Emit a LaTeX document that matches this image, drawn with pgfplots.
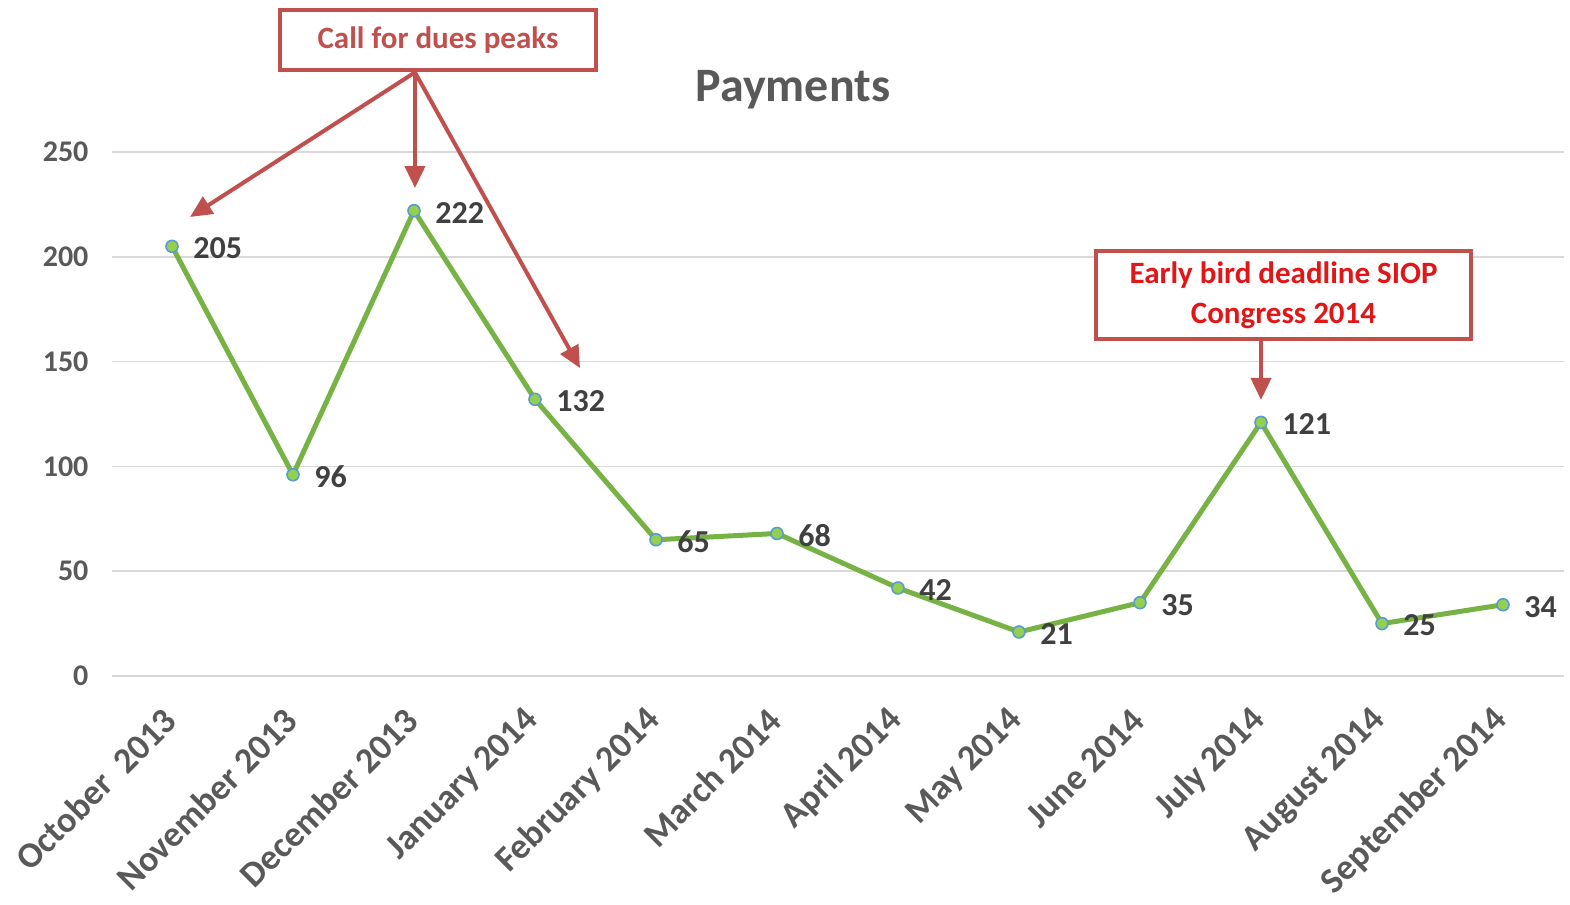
\documentclass[border=0pt]{standalone}
\usepackage{pgfplots}
\pgfplotsset{compat=1.18}
\usetikzlibrary{arrows.meta}
\usepackage{fontspec}
\setmainfont{Carlito}
\definecolor{linegreen}{RGB}{118,178,68}
\definecolor{markgreen}{RGB}{146,208,80}
\definecolor{markblue}{RGB}{91,155,213}
\definecolor{gridgray}{RGB}{217,217,217}
\definecolor{ticktxt}{RGB}{89,89,89}
\definecolor{lbltxt}{RGB}{64,64,64}
\definecolor{annred}{RGB}{192,80,77}
\definecolor{brightred}{RGB}{226,22,22}
\begin{document}
\begin{tikzpicture}
\useasboundingbox (0,0) rectangle (785pt,452.5pt);
\begin{axis}[
  at={(55.75pt,114.5pt)}, anchor=south west,
  scale only axis, width=726pt, height=262pt,
  xmin=-0.5, xmax=11.5, ymin=0, ymax=250,
  clip=false,
  axis line style={draw=none},
  major tick length=0pt,
  ymajorgrids, grid style={gridgray, line width=0.8pt},
  ytick={0,50,...,250},
  xtick={0,...,11},
  xticklabels={October\ \ 2013,November 2013,December 2013,January 2014,February 2014,March 2014,April 2014,May 2014,June 2014,July 2014,August 2014,September 2014},
  /pgf/number format/assume math mode=true,
  yticklabel style={font=\fontsize{15pt}{17pt}\selectfont\bfseries, text=ticktxt, xshift=-8pt},
  xticklabel style={yshift=-17pt, xshift=1.5pt, rotate=45, anchor=east, font=\fontsize{18pt}{20pt}\selectfont\bfseries, text=ticktxt},
  nodes near coords,
  every node near coord/.append style={anchor=west, xshift=7pt, yshift=-1pt, font=\fontsize{16pt}{18pt}\selectfont\bfseries, text=lbltxt},
]
\addplot[linegreen, line width=2.5pt, mark=*, mark size=3pt, mark options={fill=markgreen, draw=markblue, line width=0.8pt}] coordinates {
(0,205) (1,96) (2,222) (3,132) (4,65) (5,68) (6,42) (7,21) (8,35) (9,121) (10,25) (11,34)};

\node[font=\fontsize{24pt}{27pt}\selectfont\bfseries, text=ticktxt] at (axis cs:5.132,279.6) {Payments};

\draw[annred, line width=2pt, -{Triangle[length=11pt,width=10pt]}] (axis cs:2.008,288) -- (axis cs:0.149,219);
\draw[annred, line width=2pt, -{Triangle[length=11pt,width=10pt]}] (axis cs:2.008,288) -- (axis cs:2.008,232.8);
\draw[annred, line width=2pt, -{Triangle[length=11pt,width=10pt]}] (axis cs:2.008,288) -- (axis cs:3.372,146.9);
\draw[annred, line width=2pt, -{Triangle[length=11pt,width=10pt]}] (axis cs:9,159.8) -- (axis cs:9,131.7);

\node[draw=annred, line width=2pt, fill=white, minimum width=158pt, minimum height=30pt, text=annred, font=\fontsize{15.5pt}{18pt}\selectfont\bfseries] at (axis cs:2.198,303.4) {Call for dues peaks};
\node[draw=annred, line width=2pt, fill=white, minimum width=187.5pt, minimum height=44pt, text=brightred, align=center, font=\fontsize{15.5pt}{20pt}\selectfont\bfseries] at (axis cs:9.186,181.8) {Early bird deadline SIOP\\Congress 2014};
\end{axis}
\end{tikzpicture}
\end{document}
